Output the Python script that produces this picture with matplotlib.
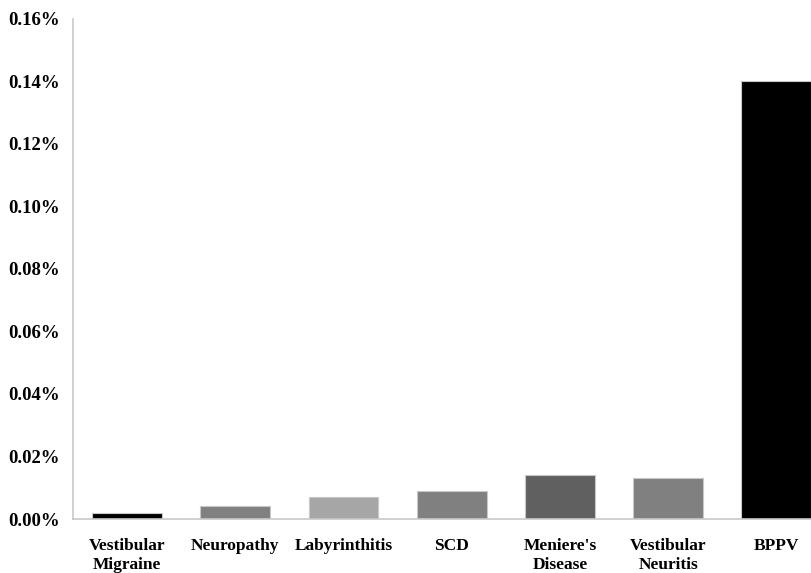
import matplotlib
matplotlib.use("Agg")
import matplotlib.pyplot as plt
from matplotlib.ticker import FuncFormatter

categories = ["Vestibular\nMigraine", "Neuropathy", "Labyrinthitis", "SCD",
              "Meniere's\nDisease", "Vestibular\nNeuritis", "BPPV"]
values = [0.002, 0.004, 0.007, 0.009, 0.014, 0.013, 0.14]  # percent
colors = ["#000000", "#808080", "#a6a6a6", "#808080", "#606060", "#808080", "#000000"]
yticks = [0.00, 0.02, 0.04, 0.06, 0.08, 0.10, 0.12, 0.14, 0.16]

plt.rcParams["font.family"] = ["Liberation Serif", "DejaVu Serif"]
plt.rcParams["font.weight"] = "bold"

fig = plt.figure(figsize=(8.12, 5.73), dpi=100)
ax = fig.add_axes([73 / 812, 1 - 519 / 573, (812 - 73) / 812, (519 - 18.5) / 573])

x = list(range(len(categories)))
ax.bar(x, values, width=0.645, color=colors, edgecolor="#c8c8c8", linewidth=0.8)

ax.set_xlim(-0.5, 6.33)
ax.set_ylim(0, 0.16)
ax.set_yticks(yticks)
ax.yaxis.set_major_formatter(FuncFormatter(lambda v, p: f"{v:.2f}%"))
ax.set_xticks(x)
ax.set_xticklabels(categories, fontsize=12.5, fontweight="bold", linespacing=1.25)
for lab in ax.get_yticklabels():
    lab.set_fontsize(13.5)
    lab.set_fontweight("bold")

ax.tick_params(axis="y", length=0, pad=9.4)
ax.tick_params(axis="x", length=0, pad=13.5)

for s in ["top", "right"]:
    ax.spines[s].set_visible(False)
for s in ["left", "bottom"]:
    ax.spines[s].set_color("#c8c8c8")
    ax.spines[s].set_linewidth(1.2)

fig.savefig("out.png", dpi=100)
